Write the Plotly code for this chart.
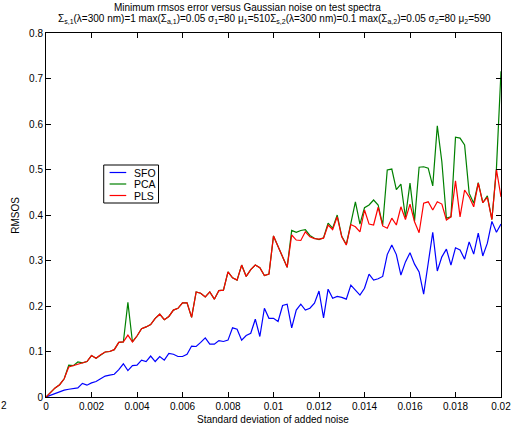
import numpy as np
import plotly.graph_objects as go

# noise levels: 0 to 0.02 in steps of 0.0002
noise_std = np.round(np.arange(101) * 0.0002, 6)

rmsos_sfo = [
    0.000, 0.004, 0.008, 0.012, 0.015, 0.017, 0.018, 0.020, 0.030, 0.026,
    0.031, 0.034, 0.040, 0.046, 0.048, 0.050, 0.060, 0.073, 0.058, 0.069,
    0.070, 0.081, 0.078, 0.090, 0.078, 0.089, 0.081, 0.096, 0.094, 0.089,
    0.089, 0.094, 0.112, 0.111, 0.120, 0.130, 0.116, 0.116, 0.124, 0.122,
    0.125, 0.152, 0.149, 0.125, 0.135, 0.140, 0.171, 0.133, 0.195, 0.173,
    0.173, 0.166, 0.201, 0.204, 0.152, 0.191, 0.204, 0.191, 0.195, 0.206,
    0.233, 0.174, 0.237, 0.217, 0.221, 0.219, 0.215, 0.246, 0.235, 0.224,
    0.239, 0.270, 0.257, 0.260, 0.265, 0.313, 0.334, 0.313, 0.268, 0.297,
    0.317, 0.292, 0.275, 0.226, 0.294, 0.362, 0.277, 0.308, 0.325, 0.290,
    0.328, 0.323, 0.303, 0.341, 0.314, 0.360, 0.310, 0.338, 0.386, 0.362,
    0.380,
]

rmsos_pls = [
    0.000, 0.010, 0.020, 0.027, 0.040, 0.066, 0.069, 0.071, 0.075, 0.078,
    0.091, 0.085, 0.093, 0.099, 0.100, 0.104, 0.120, 0.121, 0.136, 0.121,
    0.134, 0.150, 0.154, 0.159, 0.173, 0.182, 0.170, 0.177, 0.191, 0.195,
    0.207, 0.207, 0.175, 0.231, 0.228, 0.220, 0.231, 0.215, 0.234, 0.235,
    0.275, 0.262, 0.257, 0.290, 0.265, 0.280, 0.290, 0.284, 0.267, 0.270,
    0.354, 0.331, 0.308, 0.285, 0.356, 0.345, 0.344, 0.363, 0.352, 0.348,
    0.347, 0.349, 0.378, 0.368, 0.396, 0.352, 0.334, 0.379, 0.374, 0.363,
    0.411, 0.380, 0.378, 0.417, 0.376, 0.371, 0.393, 0.378, 0.418, 0.390,
    0.424, 0.385, 0.361, 0.426, 0.429, 0.411, 0.429, 0.424, 0.389, 0.396,
    0.475, 0.396, 0.455, 0.440, 0.418, 0.470, 0.427, 0.439, 0.390, 0.500,
    0.440,
]

rmsos_pca = [
    0.000, 0.010, 0.020, 0.027, 0.040, 0.070, 0.069, 0.077, 0.075, 0.078,
    0.091, 0.085, 0.093, 0.099, 0.100, 0.104, 0.120, 0.121, 0.208, 0.121,
    0.134, 0.150, 0.154, 0.159, 0.173, 0.182, 0.170, 0.177, 0.191, 0.195,
    0.207, 0.207, 0.175, 0.231, 0.228, 0.220, 0.231, 0.215, 0.234, 0.235,
    0.275, 0.262, 0.257, 0.290, 0.265, 0.280, 0.290, 0.284, 0.267, 0.270,
    0.354, 0.331, 0.308, 0.285, 0.366, 0.362, 0.366, 0.368, 0.355, 0.349,
    0.346, 0.350, 0.382, 0.371, 0.400, 0.353, 0.335, 0.381, 0.429, 0.380,
    0.416, 0.422, 0.433, 0.422, 0.378, 0.499, 0.501, 0.456, 0.468, 0.395,
    0.470, 0.387, 0.505, 0.506, 0.503, 0.464, 0.596, 0.517, 0.393, 0.396,
    0.571, 0.569, 0.554, 0.448, 0.426, 0.471, 0.427, 0.442, 0.390, 0.503,
    0.716,
]

x_tick_vals = [0, 0.002, 0.004, 0.006, 0.008, 0.01, 0.012, 0.014, 0.016, 0.018, 0.02]
x_tick_text = ["0", "0.002", "0.004", "0.006", "0.008", "0.01", "0.012", "0.014", "0.016", "0.018", "0.02"]
y_tick_vals = [0, 0.1, 0.2, 0.3, 0.4, 0.5, 0.6, 0.7, 0.8]
y_tick_text = ["0", "0.1", "0.2", "0.3", "0.4", "0.5", "0.6", "0.7", "0.8"]

series_names = ["SFO", "PCA", "PLS"]
series_colors = ["#0000ff", "#008000", "#ff0000"]
series_values = [rmsos_sfo, rmsos_pca, rmsos_pls]

W, H = 522, 433
ML, MR, MT, MB = 46, 11, 33, 36
PW, PH = W - ML - MR, H - MT - MB
FONT = "Liberation Sans, Arial, Helvetica, sans-serif"


def px_x(p):
    return (p - ML) / PW


def px_y(p):
    return (H - MB - p) / PH


fig = go.Figure()
for name, color, vals in zip(series_names, series_colors, series_values):
    fig.add_trace(go.Scatter(x=noise_std, y=vals, mode="lines", name=name,
                             line=dict(color=color, width=1.2), showlegend=False))

axis_common = dict(showline=True, linecolor="black", linewidth=1, mirror="ticks",
                   ticks="inside", ticklen=5, tickcolor="black", tickwidth=1,
                   showgrid=False, zeroline=False,
                   tickfont=dict(family=FONT, size=10, color="black"))

fig.update_xaxes(range=[0, 0.02], tickvals=x_tick_vals, ticktext=x_tick_text, **axis_common)
fig.update_yaxes(range=[0, 0.8], tickvals=y_tick_vals, ticktext=y_tick_text, **axis_common)

annotations = [
    dict(text="Minimum rmsos error versus Gaussian noise on test spectra",
         x=px_x(252), y=px_y(7), xanchor="center", yanchor="middle"),
    dict(text="Σ<sub>s,1</sub>(λ=300 nm)=1 max(Σ<sub>a,1</sub>)=0.05 σ<sub>1</sub>=80 μ<sub>1</sub>=510"
              "Σ<sub>s,2</sub>(λ=300 nm)=0.1 max(Σ<sub>a,2</sub>)=0.05 σ<sub>2</sub>=80 μ<sub>2</sub>=590",
         x=px_x(280), y=px_y(19), xanchor="center", yanchor="middle"),
    dict(text="Standard deviation of added noise",
         x=px_x(278), y=px_y(419), xanchor="center", yanchor="middle"),
    dict(text="RMSOS", textangle=-90,
         x=px_x(14), y=px_y(215), xanchor="center", yanchor="middle"),
    dict(text="2", x=px_x(3), y=px_y(406), xanchor="center", yanchor="middle"),
]

# legend box drawn as shapes + labels
shapes = [dict(type="rect", xref="paper", yref="paper",
               x0=px_x(105), x1=px_x(161), y0=px_y(203), y1=px_y(165),
               line=dict(color="black", width=1), fillcolor="white", layer="above")]
legend_rows = [172.5, 184, 195.5]
for name, color, row in zip(series_names, series_colors, legend_rows):
    shapes.append(dict(type="line", xref="paper", yref="paper",
                       x0=px_x(111), x1=px_x(128), y0=px_y(row), y1=px_y(row),
                       line=dict(color=color, width=1.2), layer="above"))
    annotations.append(dict(text=name, x=px_x(134), y=px_y(row),
                            xanchor="left", yanchor="middle",
                            font=dict(family=FONT, size=10.5, color="black")))

for a in annotations:
    a.setdefault("xref", "paper")
    a.setdefault("yref", "paper")
    a.setdefault("showarrow", False)
    a.setdefault("font", dict(family=FONT, size=10, color="black"))

fig.update_layout(width=W, height=H, margin=dict(l=ML, r=MR, t=MT, b=MB),
                  paper_bgcolor="white", plot_bgcolor="white",
                  annotations=annotations, shapes=shapes)

fig.write_html("out.html")
